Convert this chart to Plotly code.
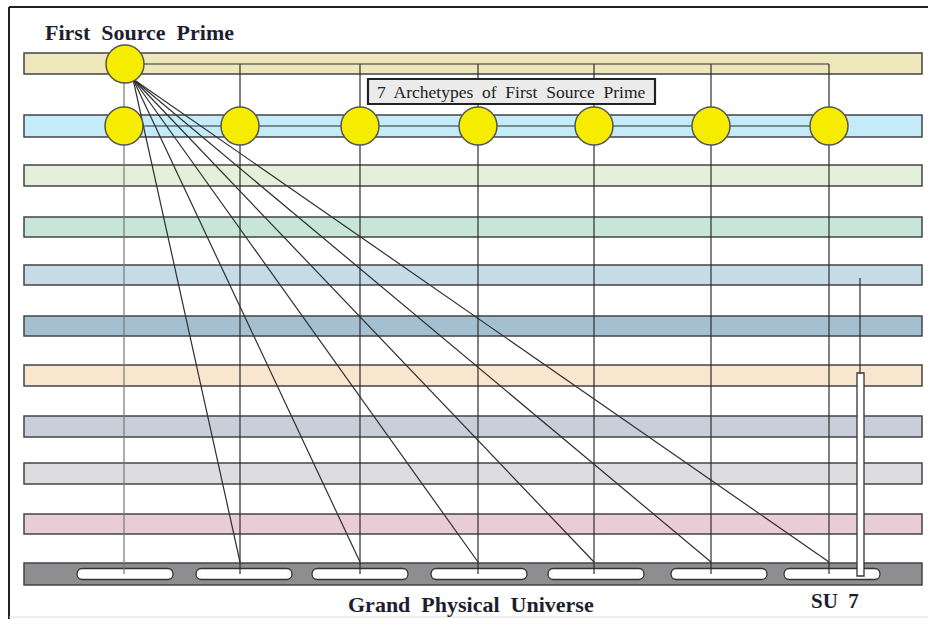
import plotly.graph_objects as go

# ---- data ----
band_tops = [53, 115, 165, 217, 265, 316, 365, 416, 463, 514, 563]
band_bottoms = [74, 137, 186, 237, 285, 336, 386, 437, 484, 534, 585]
band_colors = ["#EFE7BC", "#C3EBF8", "#E4F0D9", "#C7E5D8", "#C5DCE6", "#A4BFCF",
               "#F9E6CF", "#C8CFDB", "#DDDDE0", "#E8CDD6", "#8E8E90"]
archetype_x = [124, 240, 360, 478, 594, 711, 829]
oval_x = [125, 244, 360, 479, 596, 719, 832]
source_xy = (125, 64)
archetype_y = 126
fan_origin = (133, 79)
fan_end_y = 562
trunk_top_y = 64
trunk_bottom_y = 574
title_top = "First  Source  Prime"
title_box = "7  Archetypes  of  First  Source  Prime"
title_bottom = "Grand  Physical  Universe"
label_su = "SU  7"

W, H = 928, 619
LINE = "#2E2E2E"
EDGE = "#444444"
shapes = []

# frame
shapes.append(dict(type="line", x0=9, x1=9, y0=7, y1=H, line=dict(color="#222", width=2)))
shapes.append(dict(type="line", x0=9, x1=W, y0=7, y1=7, line=dict(color="#222", width=2)))
shapes.append(dict(type="line", x0=9, x1=W, y0=617, y1=617, line=dict(color="#DDDDDD", width=1)))

# bands
for t, b, c in zip(band_tops, band_bottoms, band_colors):
    shapes.append(dict(type="rect", x0=24, x1=922, y0=t, y1=b, fillcolor=c,
                       line=dict(color=EDGE, width=1.5)))

# ovals in bottom band
cy, w, r = trunk_bottom_y, 48, 5.5
k = r * 1.33
for cx in oval_x:
    a, bb = cx - w + r, cx + w - r
    path = (f"M {a},{cy - r} L {bb},{cy - r} C {bb + k},{cy - r} {bb + k},{cy + r} {bb},{cy + r} "
            f"L {a},{cy + r} C {a - k},{cy + r} {a - k},{cy - r} {a},{cy - r} Z")
    shapes.append(dict(type="path", path=path, fillcolor="white", line=dict(color="#333", width=1.3)))

# horizontal connectors
shapes.append(dict(type="line", x0=archetype_x[0], x1=archetype_x[-1], y0=trunk_top_y, y1=trunk_top_y,
                   line=dict(color=LINE, width=1.2)))
shapes.append(dict(type="line", x0=archetype_x[0], x1=archetype_x[-1], y0=archetype_y, y1=archetype_y,
                   line=dict(color=LINE, width=1.2)))

# vertical trunks
for i, x in enumerate(archetype_x):
    shapes.append(dict(type="line", x0=x, x1=x, y0=trunk_top_y, y1=trunk_bottom_y,
                       line=dict(color="#777" if i == 0 else LINE, width=1.2)))

# fan lines
for x in archetype_x[1:]:
    shapes.append(dict(type="line", x0=fan_origin[0], x1=x, y0=fan_origin[1], y1=fan_end_y,
                       line=dict(color=LINE, width=1.2)))

# SU 7 bar
shapes.append(dict(type="line", x0=860, x1=860, y0=278, y1=373, line=dict(color=LINE, width=1.2)))
shapes.append(dict(type="rect", x0=857, x1=864, y0=373, y1=576, fillcolor="white",
                   line=dict(color="#333", width=1.3)))

# circles
R = 19
YEL = "#F6EC00"
shapes.append(dict(type="circle", x0=source_xy[0] - R, x1=source_xy[0] + R,
                   y0=source_xy[1] - R, y1=source_xy[1] + R, fillcolor=YEL,
                   line=dict(color="#555", width=1.5)))
for x in archetype_x:
    shapes.append(dict(type="circle", x0=x - R, x1=x + R, y0=archetype_y - R, y1=archetype_y + R,
                       fillcolor=YEL, line=dict(color="#555", width=1.5)))

# archetype label box
shapes.append(dict(type="rect", x0=368, x1=655, y0=79, y1=104, fillcolor="#EBEBEB",
                   line=dict(color="#222", width=2.2)))

SERIF = "Liberation Serif"
annotations = [
    dict(x=43, y=32, text=f"<b>{title_top}</b>", xanchor="left", yanchor="middle",
         font=dict(family=SERIF, size=22, color="#1E1E30")),
    dict(x=511.5, y=92, text=title_box, xanchor="center", yanchor="middle",
         font=dict(family=SERIF, size=17.5, color="#222")),
    dict(x=471, y=604, text=f"<b>{title_bottom}</b>", xanchor="center", yanchor="middle",
         font=dict(family=SERIF, size=22, color="#1E1E30")),
    dict(x=835, y=601, text=f"<b>{label_su}</b>", xanchor="center", yanchor="middle",
         font=dict(family=SERIF, size=21, color="#1E1E30")),
]
for a in annotations:
    a.update(xref="x", yref="y", showarrow=False)

fig = go.Figure()
fig.add_trace(go.Scatter(x=[0, W], y=[0, H], mode="markers", marker=dict(opacity=0),
                         hoverinfo="skip", showlegend=False))
fig.update_layout(
    width=W, height=H, margin=dict(l=0, r=0, t=0, b=0, pad=0),
    paper_bgcolor="white", plot_bgcolor="white",
    xaxis=dict(range=[0, W], visible=False, fixedrange=True),
    yaxis=dict(range=[H, 0], visible=False, fixedrange=True),
    shapes=shapes, annotations=annotations, showlegend=False,
)
fig.write_html("out.html", config={"displayModeBar": False},
               post_script="document.body.style.margin='0';document.body.style.overflow='hidden';")
